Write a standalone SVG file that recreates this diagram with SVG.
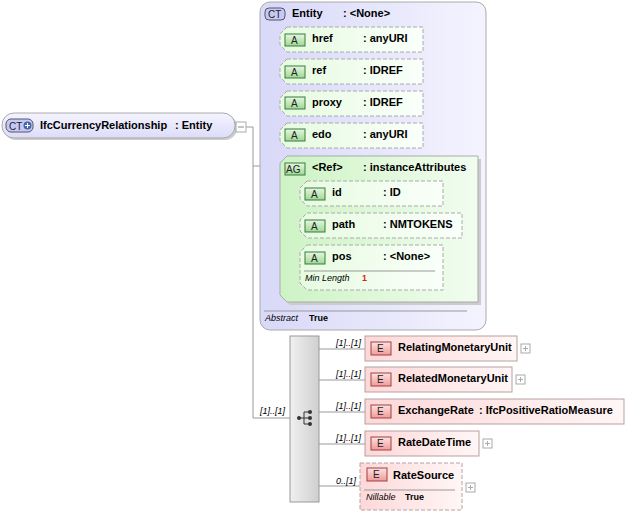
<svg xmlns="http://www.w3.org/2000/svg" width="629" height="515" viewBox="0 0 629 515">
<defs>
<linearGradient id="gct" x1="0" y1="0" x2="0" y2="1"><stop offset="0" stop-color="#f4f4ff"/><stop offset="1" stop-color="#dcdcf8"/></linearGradient>
<linearGradient id="gent" x1="0" y1="0" x2="1" y2="0"><stop offset="0" stop-color="#d8d8f8"/><stop offset="1" stop-color="#f4f4ff"/></linearGradient>
<linearGradient id="ga" x1="0" y1="0" x2="1" y2="0"><stop offset="0" stop-color="#e6fbe0"/><stop offset="1" stop-color="#fafffa"/></linearGradient>
<linearGradient id="gag" x1="0" y1="0" x2="1" y2="0"><stop offset="0" stop-color="#cdf3c4"/><stop offset="1" stop-color="#f2fdf0"/></linearGradient>
<linearGradient id="ge" x1="0" y1="0" x2="1" y2="0"><stop offset="0" stop-color="#fdd8d8"/><stop offset="1" stop-color="#fff6f6"/></linearGradient>
<linearGradient id="gseq" x1="0" y1="0" x2="1" y2="0"><stop offset="0" stop-color="#f0f0f0"/><stop offset="1" stop-color="#cfcfcf"/></linearGradient>
<linearGradient id="geb" x1="0" y1="0" x2="0" y2="1"><stop offset="0" stop-color="#fbe3e3"/><stop offset="1" stop-color="#f19a9a"/></linearGradient>
<linearGradient id="gab" x1="0" y1="0" x2="0" y2="1"><stop offset="0" stop-color="#e6f7e2"/><stop offset="1" stop-color="#9fd894"/></linearGradient>
</defs>
<style>
text{font-family:"Liberation Sans",Arial,sans-serif;font-size:11px;fill:#000}
.b{font-weight:bold}
.i{font-style:italic;font-size:9px}
.s{font-weight:bold;font-size:9px}
.r{font-weight:bold;font-size:9px;fill:#e02020}
.ln{stroke:#999;stroke-width:1;fill:none}
.att{fill:url(#ga);stroke:#aaa;stroke-dasharray:4,2}
.ab{fill:url(#gab);stroke:#3a7a3a}
.el{fill:url(#ge);stroke:#b9a0a0}
.eb{fill:url(#geb);stroke:#a04040}
.bt{font-size:10px;fill:#222}
.exp{fill:#fff;stroke:#aaa}
.sh{fill:#ccc}
</style>
<g id="connectors">
<path class="ln" d="M246 127H253V418H290"/>
<path class="ln" d="M253 166H270"/>
<path class="ln" d="M270 40V228H300M270 40H280M270 71H280M270 103H280M270 135H280"/>
<path class="ln" d="M290 194V268H300M290 194H300"/>
<path class="ln" d="M319 349H365M319 380H365M319 412H365M319 444H365M319 486H360"/>
<text class="i" x="260" y="414">[1]..[1]</text>
<text class="i" x="336" y="346">[1]..[1]</text>
<text class="i" x="336" y="377">[1]..[1]</text>
<text class="i" x="336" y="409">[1]..[1]</text>
<text class="i" x="336" y="441">[1]..[1]</text>
<text class="i" x="336" y="484">0..[1]</text>
</g>
<g id="main">
<rect x="4" y="115" width="233" height="25" rx="12" class="sh"/>
<rect x="2" y="113" width="233" height="25" rx="12" fill="url(#gct)" stroke="#aaa"/>
<rect x="6" y="119" width="27" height="13" rx="5" fill="#c8c8f4" stroke="#556"/>
<text x="9" y="129.5" class="bt">CT</text>
<circle cx="27.5" cy="125.5" r="4" fill="#4466aa"/><path d="M25 125.5h5M27.5 123v5" stroke="#fff"/>
<text x="40" y="129" class="b">IfcCurrencyRelationship</text><text x="175" y="129" class="b">: Entity</text>
<rect x="236" y="122" width="10" height="10" class="exp"/><path d="M238 127h6" stroke="#888"/>
</g>
<g id="entity">
<rect x="260" y="2" width="226" height="328" rx="10" fill="url(#gent)" stroke="#aaa"/>
<rect x="265" y="8" width="20" height="12" rx="4" fill="#c8c8f4" stroke="#556"/>
<text x="268" y="18" class="bt">CT</text>
<text x="292" y="17" class="b">Entity</text><text x="343" y="17" class="b">: &lt;None&gt;</text>
<path d="M264 311H467" stroke="#999"/>
<text x="265" y="321" class="i">Abstract</text><text x="309" y="321" class="s">True</text>
</g>
<g id="href"><path class="att" d="M287 27H423V52H287L280 45V34Z"/><rect x="285" y="34" width="20" height="12" class="ab"/><text x="291" y="44" class="bt">A</text><text x="312" y="42" class="b">href</text><text x="363" y="42" class="b">: anyURI</text></g>
<g id="ref"><path class="att" d="M287 59H423V84H287L280 77V66Z"/><rect x="285" y="66" width="20" height="12" class="ab"/><text x="291" y="76" class="bt">A</text><text x="312" y="74" class="b">ref</text><text x="363" y="74" class="b">: IDREF</text></g>
<g id="proxy"><path class="att" d="M287 91H423V116H287L280 109V98Z"/><rect x="285" y="97" width="20" height="12" class="ab"/><text x="291" y="107" class="bt">A</text><text x="312" y="106" class="b">proxy</text><text x="363" y="106" class="b">: IDREF</text></g>
<g id="edo"><path class="att" d="M287 123H423V148H287L280 141V130Z"/><rect x="285" y="129" width="20" height="12" class="ab"/><text x="291" y="139" class="bt">A</text><text x="312" y="138" class="b">edo</text><text x="363" y="138" class="b">: anyURI</text></g>
<g id="ag">
<path d="M290 159H481V305H290L283 298V166Z" class="sh"/>
<path d="M287 156H478V302H287L280 295V163Z" fill="url(#gag)" stroke="#aaa"/>
<rect x="285" y="163" width="20" height="12" class="ab"/><text x="286" y="173" class="bt">AG</text>
<text x="312" y="171" class="b">&lt;Ref&gt;</text><text x="363" y="171" class="b">: instanceAttributes</text>
</g>
<g id="id"><path class="att" d="M307 181H443V206H307L300 199V188Z"/><rect x="305" y="188" width="20" height="12" class="ab"/><text x="311" y="198" class="bt">A</text><text x="332" y="196" class="b">id</text><text x="383" y="196" class="b">: ID</text></g>
<g id="path"><path class="att" d="M307 213H462V238H307L300 231V220Z"/><rect x="305" y="220" width="20" height="12" class="ab"/><text x="311" y="230" class="bt">A</text><text x="332" y="228" class="b">path</text><text x="383" y="228" class="b">: NMTOKENS</text></g>
<g id="pos"><path class="att" d="M307 245H443V290H307L300 283V252Z"/><rect x="305" y="252" width="20" height="12" class="ab"/><text x="311" y="262" class="bt">A</text><text x="332" y="260" class="b">pos</text><text x="383" y="260" class="b">: &lt;None&gt;</text>
<path d="M304 271H435" stroke="#999"/><text x="305" y="281" class="i">Min Length</text><text x="362" y="281" class="r">1</text></g>
<g id="sequence">
<rect x="290" y="336" width="29" height="166" fill="url(#gseq)" stroke="#999"/>
<path d="M299 418H304M304 412V424M304 412H309M304 418H309M304 424H309" stroke="#333" fill="none"/>
<circle cx="299" cy="418" r="2" fill="#333"/><circle cx="310" cy="412" r="2" fill="#333"/><circle cx="310" cy="418" r="2" fill="#333"/><circle cx="310" cy="424" r="2" fill="#333"/>
</g>
<g id="RelatingMonetaryUnit"><rect x="365" y="336" width="152" height="25" class="el"/><rect x="371" y="342" width="20" height="13" class="eb"/><text x="377" y="352" class="bt">E</text><text x="398" y="351" class="b">RelatingMonetaryUnit</text><rect x="521" y="344" width="9" height="9" class="exp"/><path d="M523 348.5h5M525.5 346v5" stroke="#aaa"/></g>
<g id="RelatedMonetaryUnit"><rect x="365" y="367" width="147" height="25" class="el"/><rect x="371" y="373" width="20" height="13" class="eb"/><text x="377" y="383" class="bt">E</text><text x="398" y="382" class="b">RelatedMonetaryUnit</text><rect x="516" y="375" width="9" height="9" class="exp"/><path d="M518 379.5h5M520.5 377v5" stroke="#aaa"/></g>
<g id="ExchangeRate"><rect x="365" y="399" width="259" height="25" class="el"/><rect x="371" y="405" width="20" height="13" class="eb"/><text x="377" y="415" class="bt">E</text><text x="398" y="414" class="b">ExchangeRate</text><text x="479" y="414" class="b">: IfcPositiveRatioMeasure</text></g>
<g id="RateDateTime"><rect x="365" y="431" width="114" height="25" class="el"/><rect x="371" y="437" width="20" height="13" class="eb"/><text x="377" y="447" class="bt">E</text><text x="398" y="446" class="b">RateDateTime</text><rect x="483" y="439" width="9" height="9" class="exp"/><path d="M485 443.5h5M487.5 441v5" stroke="#aaa"/></g>
<g id="RateSource"><rect x="360" y="463" width="102" height="47" class="el" stroke-dasharray="4,2"/><rect x="367" y="468" width="20" height="13" class="eb"/><text x="373" y="478" class="bt">E</text><text x="393" y="479" class="b">RateSource</text>
<path d="M364 490H455" stroke="#999"/><text x="366" y="500" class="i">Nillable</text><text x="405" y="500" class="s">True</text>
<rect x="466" y="483" width="9" height="9" class="exp"/><path d="M468 487.5h5M470.5 485v5" stroke="#aaa"/></g>
</svg>
